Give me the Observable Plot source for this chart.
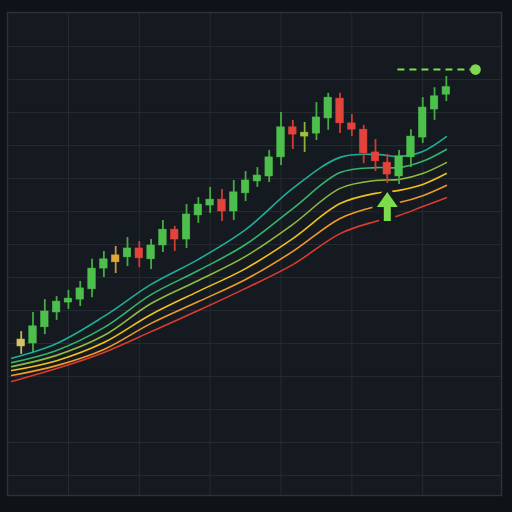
<!DOCTYPE html>
<html>
<head>
<meta charset="utf-8">
<script src="https://cdn.jsdelivr.net/npm/d3@7"></script>
<script src="https://cdn.jsdelivr.net/npm/@observablehq/plot@0.6"></script>
<style>
  html, body { margin: 0; padding: 0; background: #0f1216; }
  #chart { width: 512px; height: 512px; }
  svg { display: block; }
</style>
</head>
<body>
<div id="chart"></div>
<script>
// ---- Candles (session index = position in array) ----
const opens  = [139.1,140.0,144.9,149.4,152.4,153.3,156.4,162.7,164.6,166.1,168.8,165.5,169.7,174.5,171.5,178.8,181.8,183.6,180.0,185.5,189.1,190.6,196.4,205.5,202.7,203.6,208.2,214.2,206.7,204.8,197.9,194.8,190.6,196.4,202.4,210.9,215.4];
const closes = [141.2,145.2,149.7,152.7,153.6,156.7,162.7,165.5,166.7,168.8,165.8,169.7,174.5,171.5,179.1,182.1,183.6,180.0,185.8,189.4,190.9,196.4,205.5,203.3,203.9,208.5,214.5,206.7,204.8,197.6,195.2,191.2,196.7,202.7,211.5,214.9,217.7];
const highs  = [143.6,149.4,153.3,154.2,156.1,158.8,165.5,167.9,169.4,172.1,170.9,171.5,177.3,175.5,182.1,184.2,187.3,186.7,189.4,192.1,193.3,198.5,210.0,207.6,207.0,213.0,215.8,215.8,209.4,206.1,201.8,197.3,198.5,204.8,214.5,217.5,220.9];
const lows   = [136.7,137.3,142.7,147.0,150.3,151.2,153.9,160.0,161.2,163.3,163.0,162.4,167.6,167.9,168.8,176.4,179.4,177.0,177.3,183.0,187.3,188.8,193.9,198.8,197.9,201.5,204.6,203.6,202.7,194.5,192.1,188.5,188.2,193.3,200.6,207.6,213.3];
const tones  = ["pale","up","up","up","up","up","up","up","amber","up","down","up","up","down","up","up","up","down","up","up","up","up","up","down","olive","up","up","down","down","down","down","down","up","up","up","up","up"];

// ---- Moving-average ribbon (knots at session positions) ----
const maSessions = [-0.8, 3, 7, 11, 15, 19, 23, 27, 30, 32, 34, 36];
const maFast  = [135.5,140.0,148.2,157.9,165.5,174.5,187.0,196.4,197.3,196.7,198.2,202.7];
const ma2     = [134.2,137.9,144.8,154.8,162.1,170.0,180.9,191.8,193.3,193.3,195.2,198.8];
const ma3     = [133.0,136.4,142.4,152.1,159.1,166.4,176.1,187.0,189.4,189.7,191.5,194.8];
const ma4     = [131.8,134.8,140.3,148.8,155.8,162.7,171.8,182.4,185.5,186.4,188.2,191.5];
const ma5     = [130.3,133.3,138.2,146.1,152.7,159.4,167.9,177.9,181.5,182.7,184.8,187.9];
const maSlow  = [128.5,132.4,137.3,143.6,150.0,156.7,163.9,173.3,177.0,178.8,181.5,184.2];
const maNames = ["MA1","MA2","MA3","MA4","MA5","MA6"];
const maColors = ["#1fae94","#35b46c","#8fbb3e","#f2c21c","#f09a28","#dc3b2e"];

// ---- Annotations ----
const signal = {session: 31, price: 181.5};
const target = {from: 31.9, to: 38.1, dotAt: 38.47, price: 223.0};

// ---- Grid ticks ----
const priceTicks = [100,110,120,130,140,150,160,170,180,190,200,210,220,230];
const sessionTicks = [4,10,16,22,28,34];

const toneColor = {up: "#4dbf4d", down: "#e2433a", pale: "#d3c46c", amber: "#dfa93a", olive: "#9cc23f"};
const wickColor = {up: "#43ad43", down: "#cf3c33", pale: "#c9b35c", amber: "#c9963a", olive: "#8cb23a"};

const candles = opens.map((o, i) => ({i, open: o, close: closes[i], high: highs[i], low: lows[i], tone: tones[i]}));
const maSeries = [maFast, ma2, ma3, ma4, ma5, maSlow];
const maData = maSeries.flatMap((vals, k) => vals.map((v, j) => ({session: maSessions[j], price: v, name: maNames[k]})));

const arrowSymbol = {
  draw(ctx) {
    ctx.moveTo(0, -14.5);
    ctx.lineTo(10.5, 0.5);
    ctx.lineTo(3.5, 0.5);
    ctx.lineTo(3.5, 14.5);
    ctx.lineTo(-3.5, 14.5);
    ctx.lineTo(-3.5, 0.5);
    ctx.lineTo(-10.5, 0.5);
    ctx.closePath();
  }
};

const panelBg = "#151a20";
const halfW = 0.32;

const chart = Plot.plot({
  width: 512,
  height: 512,
  marginLeft: 7,
  marginRight: 11,
  marginTop: 12,
  marginBottom: 17,
  style: {background: "transparent"},
  x: {domain: [-1.16, 40.67], axis: null},
  y: {domain: [93.94, 240.3], axis: null},
  color: {domain: maNames, range: maColors},
  marks: [
    Plot.frame({fill: panelBg, stroke: null}),
    Plot.gridY(priceTicks, {stroke: "#262b33", strokeOpacity: 1, strokeWidth: 1}),
    Plot.gridX(sessionTicks, {stroke: "#262b33", strokeOpacity: 1, strokeWidth: 1}),
    Plot.line(maData, {x: "session", y: "price", z: "name", stroke: "name", strokeWidth: 1.6, curve: "catmull-rom"}),
    Plot.dot([signal], {x: "session", y: "price", symbol: arrowSymbol, r: 10, fill: panelBg, stroke: panelBg, strokeWidth: 9, strokeLinejoin: "round"}),
    Plot.dot([signal], {x: "session", y: "price", symbol: arrowSymbol, r: 10, fill: "#7ddc4a", stroke: "none"}),
    Plot.ruleX(candles, {x: "i", y1: "low", y2: "high", stroke: d => wickColor[d.tone], strokeWidth: 1.8}),
    Plot.rect(candles, {
      x1: d => d.i - halfW, x2: d => d.i + halfW,
      y1: "open", y2: "close",
      fill: d => toneColor[d.tone],
      stroke: d => toneColor[d.tone], strokeWidth: 0.5
    }),
    Plot.ruleY([target], {y: "price", x1: "from", x2: "to", stroke: "#7ddc4a", strokeWidth: 2, strokeDasharray: "7,5"}),
    Plot.dot([target], {x: "dotAt", y: "price", r: 5.3, fill: "#7ddc4a"}),
    Plot.frame({stroke: "#2d323a", strokeWidth: 1.5})
  ]
});

document.getElementById("chart").appendChild(chart);
</script>
</body>
</html>
